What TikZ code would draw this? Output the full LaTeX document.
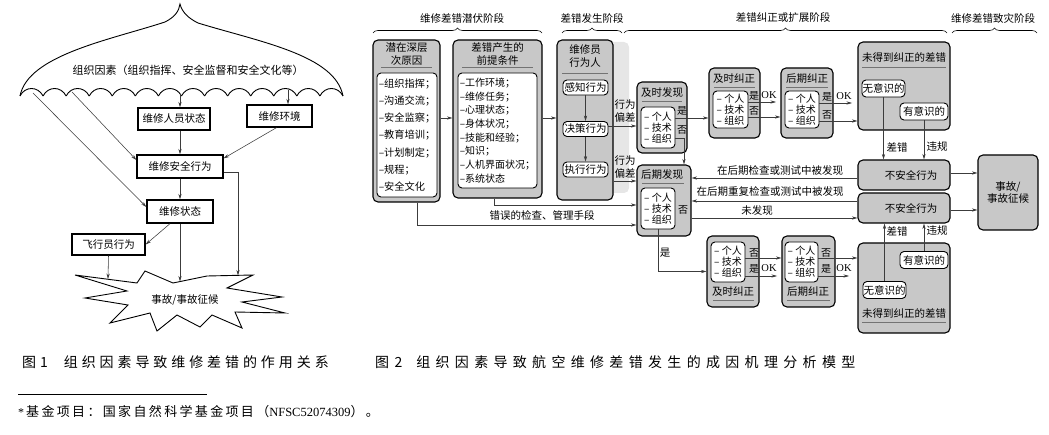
\documentclass[tikz,border=0pt]{standalone}
\usepackage{fontspec}
\setmainfont{Noto Sans CJK SC}
\newfontfamily\latf{Liberation Serif}
\newfontfamily\capfontA[LetterSpace=28]{Noto Sans CJK SC}
\newfontfamily\capfontB[LetterSpace=38]{Noto Sans CJK SC}
\newfontfamily\footfont[LetterSpace=18]{Noto Sans CJK SC}
\usetikzlibrary{arrows.meta,decorations.pathreplacing,calc}
\definecolor{boxgray}{RGB}{200,200,200}
\definecolor{shadegray}{RGB}{230,230,230}
\definecolor{linegray}{RGB}{60,60,60}
\tikzset{
 gbox/.style={draw=black, line width=1.1pt, rounded corners=5pt, fill=boxgray, inner sep=0pt, font=\fontsize{10.5}{12.5}\selectfont},
 wbox/.style={draw=black, line width=0.9pt, rounded corners=4pt, fill=white, inner sep=0pt, font=\fontsize{10.5}{12.5}\selectfont},
 ibox/.style={wbox, align=left, font=\fontsize{10}{11}\selectfont},
 lbox/.style={draw=black, line width=1.3pt, fill=white, inner sep=0pt, font=\fontsize{10.5}{12.5}\selectfont},
 arr/.style={-{Stealth[length=5.5pt,width=3.2pt]}, line width=0.55pt, draw=linegray},
 ln/.style={line width=0.55pt, draw=linegray},
 sepl/.style={line width=0.4pt, draw=black!55},
 txt/.style={font=\fontsize{10.5}{12.5}\selectfont, inner sep=0pt, align=center},
 sml/.style={font=\fontsize{10}{11}\selectfont, inner sep=0pt},
 okl/.style={font=\latf\fontsize{10.5}{11}\selectfont, inner sep=0pt},
 brc/.style={decorate, decoration={brace, amplitude=5pt}, line width=0.6pt},
}
\begin{document}
\begin{tikzpicture}[x=1pt,y=-1pt]
\useasboundingbox (0,0) rectangle (1049,435);

% ================= Figure 1 =================
\draw[line width=0.9pt] (20,96) .. controls (28,55) and (110,40) .. (165,22)
  .. controls (175,17) and (179,11) .. (180,4)
  .. controls (182,12) and (188,18) .. (198,23)
  .. controls (260,42) and (335,55) .. (343,96);
\foreach \i in {0,...,13}{
  \draw[line width=0.9pt] ({20+\i*23.07},96) .. controls ({25+\i*23.07},86) and ({38+\i*23.07},86) .. ({20+(\i+1)*23.07},96);
}
\node[font=\fontsize{11}{13}\selectfont, inner sep=0pt] (org) at (188,70) {组织因素（组织指挥、安全监督和安全文化等）};
\coordinate (u1) at (33,93);
\coordinate (u2) at (72,92);
\coordinate (u3) at (180,94);
\coordinate (u4) at (288,90);

\node[lbox, minimum width=72, minimum height=22] (p1) at (174,119) {维修人员状态};
\node[lbox, minimum width=65, minimum height=22] (p2) at (279.5,116) {维修环境};
\node[lbox, minimum width=86, minimum height=23] (p3) at (180,166.5) {维修安全行为};
\node[lbox, minimum width=66, minimum height=23] (p4) at (180,211.5) {维修状态};
\node[lbox, minimum width=73, minimum height=21] (p5) at (108.5,244.5) {飞行员行为};

\draw[line width=0.9pt] (75,275) -- (137,283) -- (145,271) -- (173,283) -- (207,276) -- (253,275) -- (227,288) -- (282,297) -- (242,302) -- (285,313) -- (235,312) -- (242,328) -- (212,315) -- (200,327) -- (177,315) -- (157,331) -- (150,313) -- (110,323) -- (128,305) -- (85,298) -- (127,291) -- cycle;
\node[font=\fontsize{10.5}{12.5}\selectfont, inner sep=0pt] (star) at (185,300) {事故/事故征候};
\coordinate (s1) at (108,279);
\coordinate (s2) at (180,281.5);
\coordinate (s3) at (238,275.5);
\coordinate (r1) at (238,172);

\draw[arr] (u3) -- (u3 |- p1.north);
\draw[arr] (u4) -- (u4 |- p2.north);
\draw[arr] (u2) -- ([yshift=6.5pt]p3.west);
\draw[arr] (u1) -- ([yshift=4.5pt]p4.west);
\draw[arr] (p3.north |- p1.south) -- (p3.north);
\draw[arr] ([xshift=-3pt]p2.south) -- ([yshift=-4pt]p3.north east);
\draw[arr] (p3.south) -- (p4.north);
\draw[arr] ([yshift=-5.5pt]p3.east) -- (r1) -- (s3);
\draw[arr] (p4.south) -- (s2);
\draw[arr] ([xshift=-10pt]p4.south) -- (p5.east);
\draw[arr] (p5.south) -- (s1);

% ================= Figure 2 =================
% braces
\draw[brc] (373,33) -- (542,33);
\draw[brc] (562,33) -- (622,33);
\draw[brc] (624,33) -- (947,33);
\draw[brc] (952,33) -- (1037,33);
\node[txt] (b1) at (462,19) {维修差错潜伏阶段};
\node[txt] (b2) at (592,19) {差错发生阶段};
\node[txt] (b3) at (783,18) {差错纠正或扩展阶段};
\node[txt] (b4) at (993,18) {维修差错致灾阶段};

% A
\node[gbox, minimum width=67, minimum height=162] (A) at (406.5,121) {};
\node[txt] (Ah) at (406.5,54) {潜在深层\\次原因};
\draw[sepl] (381,67) -- (432,67);
\node[wbox, minimum width=60, minimum height=124, align=left, font=\fontsize{10.2}{17.2}\selectfont] (Ain) at (407,135) {–组织指挥；\\–沟通交流；\\–安全监察；\\–教育培训；\\–计划制定；\\–规程；\\–安全文化};

% B
\node[gbox, minimum width=89, minimum height=158] (B) at (497.5,119) {};
\node[txt] (Bh) at (497.5,54) {差错产生的\\前提条件};
\draw[sepl] (462,67) -- (533,67);
\node[wbox, minimum width=79, minimum height=115, align=left, font=\fontsize{10}{13.7}\selectfont] (Bin) at (497.5,130.5) {–工作环境；\\–维修任务；\\–心理状态；\\–身体状况；\\–技能和经验；\\–知识；\\–人机界面状况；\\–系统状态};

% C
\node[fill=shadegray, rounded corners=5pt, minimum width=67, minimum height=151, inner sep=0pt] (Cbg) at (595.5,117.5) {};
\node[gbox, minimum width=56, minimum height=160] (C) at (585,120) {};
\node[txt] (Ch) at (585,56) {维修员\\行为人};
\draw[sepl] (562,73) -- (608,73);
\node[wbox, minimum width=45, minimum height=15] (C1) at (585.5,87.5) {感知行为};
\node[wbox, minimum width=45, minimum height=15] (C2) at (585.5,129) {决策行为};
\node[wbox, minimum width=45, minimum height=15] (C3) at (585.5,169.5) {执行行为};
\draw[arr] (C1.south) -- (C2.north);
\draw[arr] (C2.south) -- (C3.north);

% D
\node[gbox, minimum width=50, minimum height=71] (D) at (662,117.5) {};
\node[txt] (Dh) at (662,93) {及时发现};
\draw[sepl] (642,101) -- (682,101);
\node[ibox, minimum width=34, minimum height=41] (Din) at (658,127.5) {– 个人\\– 技术\\– 组织};
\node[sml] (Dy) at (682,111) {是};
\node[sml] (Dn) at (682,130) {否};

% E
\node[gbox, minimum width=54, minimum height=71] (E) at (664,200.5) {};
\node[txt] (Eh) at (662,175) {后期发现};
\draw[sepl] (642,183) -- (684,183);
\node[ibox, minimum width=34, minimum height=41] (Ein) at (658,208.5) {– 个人\\– 技术\\– 组织};
\node[sml] (En) at (683,210) {否};

% F
\node[gbox, minimum width=51, minimum height=70] (F) at (734.5,103) {};
\node[txt] (Fh) at (734,79) {及时纠正};
\draw[sepl] (714,87) -- (755,87);
\node[ibox, minimum width=35, minimum height=37] (Fin) at (730.5,109.5) {– 个人\\– 技术\\– 组织};
\node[sml] (Fy) at (754,96) {是};
\node[sml] (Fn) at (754,111) {否};
\node[okl] (Fok) at (769,95) {OK};

% G
\node[gbox, minimum width=52, minimum height=70] (G) at (807,103) {};
\node[txt] (Gh) at (807,79) {后期纠正};
\draw[sepl] (786,87) -- (828,87);
\node[ibox, minimum width=34, minimum height=37] (Gin) at (802,109.5) {– 个人\\– 技术\\– 组织};
\node[sml] (Gy) at (827,97) {是};
\node[sml] (Gn) at (827,115) {否};
\node[okl] (Gok) at (844,96) {OK};

% H
\node[gbox, minimum width=92, minimum height=88] (H) at (904,86) {};
\node[txt] (Hh) at (904,57) {未得到纠正的差错};
\draw[sepl] (862,67) -- (946,67);
\node[wbox, minimum width=43, minimum height=17] (W1) at (883.5,88.5) {无意识的};
\node[wbox, minimum width=48, minimum height=17] (W2) at (924,111.5) {有意识的};

% unsafe acts, accident
\node[gbox, minimum width=92, minimum height=30] (U1) at (904,175) {\hspace*{14pt}不安全行为};
\node[gbox, minimum width=92, minimum height=30] (U2) at (904,208) {\hspace*{14pt}不安全行为};
\node[gbox, minimum width=60, minimum height=75, align=center] (Z) at (1008,192.5) {事故/\\事故征候};

% I, J lower
\node[gbox, minimum width=52, minimum height=71] (I) at (733,271.5) {};
\node[ibox, minimum width=34, minimum height=40] (Iin) at (728,262) {– 个人\\– 技术\\– 组织};
\node[txt] (Il) at (733,292) {及时纠正};
\draw[sepl] (713,300) -- (754,300);
\node[sml] (In) at (754,253) {否};
\node[sml] (Iy) at (754,269) {是};
\node[okl] (Iok) at (769,268) {OK};

\node[gbox, minimum width=53, minimum height=71] (J) at (808.5,271.5) {};
\node[ibox, minimum width=33, minimum height=40] (Jin) at (801.5,262) {– 个人\\– 技术\\– 组织};
\node[txt] (Jl) at (808,292) {后期纠正};
\draw[sepl] (787,300) -- (830,300);
\node[sml] (Jn) at (826,253) {否};
\node[sml] (Jy) at (826,269) {是};
\node[okl] (Jok) at (844,268) {OK};

% H2
\node[gbox, minimum width=92, minimum height=90] (H2) at (904,288) {};
\node[wbox, minimum width=48, minimum height=17] (W4) at (924,260) {有意识的};
\node[wbox, minimum width=43, minimum height=17] (W3) at (884.5,290) {无意识的};
\node[txt] (H2l) at (904,313) {未得到纠正的差错};
\draw[sepl] (862,322) -- (946,322);

% coordinates for free arrow ends
\coordinate (ok1) at (776,102);
\coordinate (ok2) at (852,103);
\coordinate (ok3) at (777,276);
\coordinate (ok4) at (849,276);

% connectors
\draw[arr] (A.east |- 0,118) -- (B.west |- 0,118);
\draw[arr] (B.east |- 0,118) -- (C.west |- 0,118);
\draw[arr] (C2.east |- 0,126) -- (D.west |- 0,126);
\node[txt] (dev1) at (625,111) {行为\\偏差};
\draw[arr] (C.east |- 0,181) -- (E.west |- 0,181);
\node[txt] (dev2) at (625,167) {行为\\偏差};
\draw[arr] (B.south -| 494,0) |- (E.west |- 0,205);
\draw[arr] (A.south -| 417,0) |- (E.west |- 0,225);
\node[txt] (chk) at (542,215) {错误的检查、管理手段};

\draw[arr] (Din.east |- 0,118) -- (F.west |- 0,118);
\draw[arr] (Din.east |- 0,138) -| (684,0 |- E.north);
\draw[arr] (Fin.east |- 0,102) -- (ok1);
\draw[arr] (Fin.east |- 0,117) -- (G.west |- 0,117);
\draw[arr] (Gin.east |- 0,103) -- (ok2);
\draw[arr] (Gin.east |- 0,121) -- (H.west |- 0,121);

\draw[arr] (W1.south) -- (W1.south |- U1.north);
\draw[arr] (W2.south) -- (W2.south |- U1.north);
\node[txt] (e1) at (897,147) {差错};
\node[txt] (v1) at (937,147) {违规};

\draw[arr] (U1.west |- 0,178) -- (E.east |- 0,178);
\node[txt] (lb1) at (780,170) {在后期检查或测试中被发现};
\draw[arr] (U2.west |- 0,201) -- (E.east |- 0,201);
\node[txt] (lb2) at (770,191) {在后期重复检查或测试中被发现};
\draw[arr] (E.east |- 0,218) -- (U2.west |- 0,218);
\node[txt] (lb3) at (757,211) {未发现};

\draw[arr] (U1.east |- 0,173) -- (Z.west |- 0,173);
\draw[arr] (U2.east |- 0,210) -- (Z.west |- 0,210);

\draw[arr] (Ein.south) |- (I.west);
\node[txt] (ys) at (665,253) {是};
\draw[arr] (Iin.east |- 0,258) -- (J.west |- 0,258);
\draw[arr] (Iin.east |- 0,276) -- (ok3);
\draw[arr] (Jin.east |- 0,258) -- (H2.west |- 0,258);
\draw[arr] (Jin.east |- 0,276) -- (ok4);

\draw[arr] (W3.north) -- (W3.north |- U2.south);
\draw[arr] (W4.north) -- (W4.north |- U2.south);
\node[txt] (e2) at (897,231) {差错};
\node[txt] (v2) at (937,231) {违规};

% ================= captions =================
\node[anchor=west, inner sep=0pt, font=\capfontA\fontsize{14}{16}\selectfont] (cap1) at (22,362) {图1\hspace{16pt}组织因素导致维修差错的作用关系};
\node[anchor=west, inner sep=0pt, font=\capfontB\fontsize{14}{16}\selectfont] (cap2) at (375,362) {图2\hspace{14pt}组织因素导致航空维修差错发生的成因机理分析模型};
\draw[line width=0.5pt] (18,394) -- (207,394);
\node[anchor=west, inner sep=0pt, font=\footfont\fontsize{13}{15}\selectfont] (foot) at (18,412) {{\latf\fontsize{12}{13}\selectfont *\,}基金项目：国家自然科学基金项目（{\latf\fontsize{12.5}{13}\selectfont NFSC52074309}）。};
\end{tikzpicture}
\end{document}
